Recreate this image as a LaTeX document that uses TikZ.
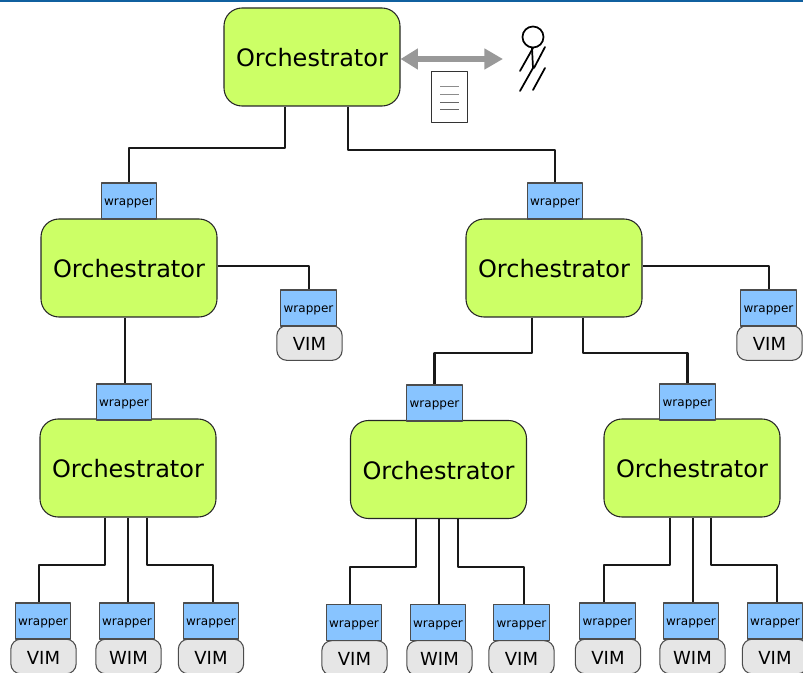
\documentclass[tikz,border=0pt]{standalone}
\usepackage{fontspec}
\setmainfont{DejaVu Sans}
\usetikzlibrary{arrows.meta}
\definecolor{orchgreen}{HTML}{CCFF66}
\definecolor{wrapblue}{HTML}{88C4FF}
\definecolor{vimgray}{HTML}{E6E6E6}
\definecolor{barblue}{HTML}{10609F}
\definecolor{arrowgray}{HTML}{999999}
\tikzset{
	orch/.style={draw=black!85, fill=orchgreen, rounded corners=13.5pt, line width=0.8pt, inner sep=0pt,
		minimum width=132pt, minimum height=73.5pt, text height=14.6pt, text depth=0.2pt,
		font=\fontsize{18}{20}\selectfont},
	wrapperbox/.style={draw=black!70, fill=wrapblue, line width=0.8pt, inner sep=0pt,
		minimum width=41.5pt, minimum height=27pt, text height=8pt, text depth=1pt,
		font=\fontsize{9}{11}\selectfont},
	vim/.style={draw=black!70, fill=vimgray, rounded corners=7.5pt, line width=0.8pt, inner sep=0pt,
		minimum width=49pt, minimum height=26pt, text height=11.3pt, text depth=0pt,
		font=\fontsize{13.5}{16}\selectfont},
	link/.style={line width=1.8pt, black!90},
	stick/.style={line width=1.3pt, line cap=round},
}
\begin{document}
\begin{tikzpicture}[x=0.75pt, y=-0.75pt, line join=round]
	\useasboundingbox (0,0) rectangle (803,673);
	\clip (0,0) rectangle (803,673);
	\fill[barblue] (0,0) rectangle (803,2);
	% orchestrators
	\node[orch] (orchTop) at (312,57) {Orchestrator};
	\node[orch] (orchL) at (129,268) {Orchestrator};
	\node[orch] (orchR) at (554,268) {Orchestrator};
	\node[orch] (orchLL) at (128,468) {Orchestrator};
	\node[orch] (orchRL) at (438.5,469.5) {Orchestrator};
	\node[orch] (orchRR) at (692,468) {Orchestrator};
	% wrappers on top of orchestrators
	\node[wrapperbox] (wL) at (129,201) {wrapper};
	\node[wrapperbox] (wR) at (555,201) {wrapper};
	\node[wrapperbox] (wLL) at (124,402) {wrapper};
	\node[wrapperbox] (wRL) at (434.5,403) {wrapper};
	\node[wrapperbox] (wRR) at (687.5,402) {wrapper};
	% the two single VIMs
	\node[vim] (vimL) at (309.5,343) {VIM};
	\node[wrapperbox] (wvimL) at (308.5,308) {wrapper};
	\node[vim] (vimR) at (769.5,343) {VIM};
	\node[wrapperbox] (wvimR) at (768.5,308) {wrapper};
	% three at the bottom of each group
	\foreach \g/\xa/\xb/\xc/\vy/\wy in {LL/43/127/211/656.5/621, RL/354/438/521.5/658/622.5, RR/607.5/691/775/656.5/621}{
		\node[vim] (vim\g a) at (\xa+0.5,\vy) {VIM};
		\node[vim] (vim\g b) at (\xb+1.5,\vy) {WIM};
		\node[vim] (vim\g c) at (\xc,\vy) {VIM};
		\node[wrapperbox] (w\g a) at (\xa,\wy) {wrapper};
		\node[wrapperbox] (w\g b) at (\xb,\wy) {wrapper};
		\node[wrapperbox] (w\g c) at (\xc,\wy) {wrapper};
	}
	% links
	\draw[link] (285,0 |- orchTop.south) -- (285,148) -| (wL.north);
	\draw[link] (348,0 |- orchTop.south) -- (348,150) -| (wR.north);
	\draw[link] (orchL.east |- 0,266) -- (309,266) -- (309,0 |- wvimL.north);
	\draw[link] (orchR.east |- 0,266) -- (769,266) -- (769,0 |- wvimR.north);
	\draw[link] (125,0 |- wLL.north) -- (125,0 |- orchL.south);
	\draw[link] (532,0 |- orchR.south) -- (532,353) -| (wRL.north);
	\draw[link] (583,0 |- orchR.south) -- (583,353) -| (wRR.north);
	\draw[link] (105,0 |- orchLL.south) -- (105,565) -- (39,565) -- (39,0 |- wLLa.north);
	\draw[link] (128,0 |- wLLb.north) -- (128,0 |- orchLL.south);
	\draw[link] (147,0 |- orchLL.south) -- (147,565) -- (213,565) -- (213,0 |- wLLc.north);
	\draw[link] (416,0 |- orchRL.south) -- (416,567) -- (350,567) -- (350,0 |- wRLa.north);
	\draw[link] (439,0 |- wRLb.north) -- (439,0 |- orchRL.south);
	\draw[link] (458,0 |- orchRL.south) -- (458,567) -- (524,567) -- (524,0 |- wRLc.north);
	\draw[link] (670,0 |- orchRR.south) -- (670,565) -- (604,565) -- (604,0 |- wRRa.north);
	\draw[link] (693,0 |- wRRb.north) -- (693,0 |- orchRR.south);
	\draw[link] (711,0 |- orchRR.south) -- (711,565) -- (777,565) -- (777,0 |- wRRc.north);
	% user with document
	\coordinate (user) at (503,59);
	\draw[arrowgray, line width=3.8pt, {Triangle[length=13pt,width=15pt]}-{Triangle[length=14pt,width=15pt]}] (orchTop.east |- user) -- (user);
	\draw[black!80, line width=0.6pt] (431.5,71) rectangle (467,122);
	\draw[black!45, line width=0.7pt] (440,86)--(459,86) (440,94)--(459,94);
	\draw[black!60, line width=0.7pt] (440,102)--(459,102) (440,109)--(459,109);
	\draw[stick] (533,37) circle (10.5);
	\draw[stick] (532,48)--(533,68);
	\draw[stick] (520,71)--(533,48);
	\draw[stick] (534,68)--(545,47);
	\draw[stick] (520,91)--(533,68);
	\draw[stick] (533,90)--(545,68);
\end{tikzpicture}
\end{document}
